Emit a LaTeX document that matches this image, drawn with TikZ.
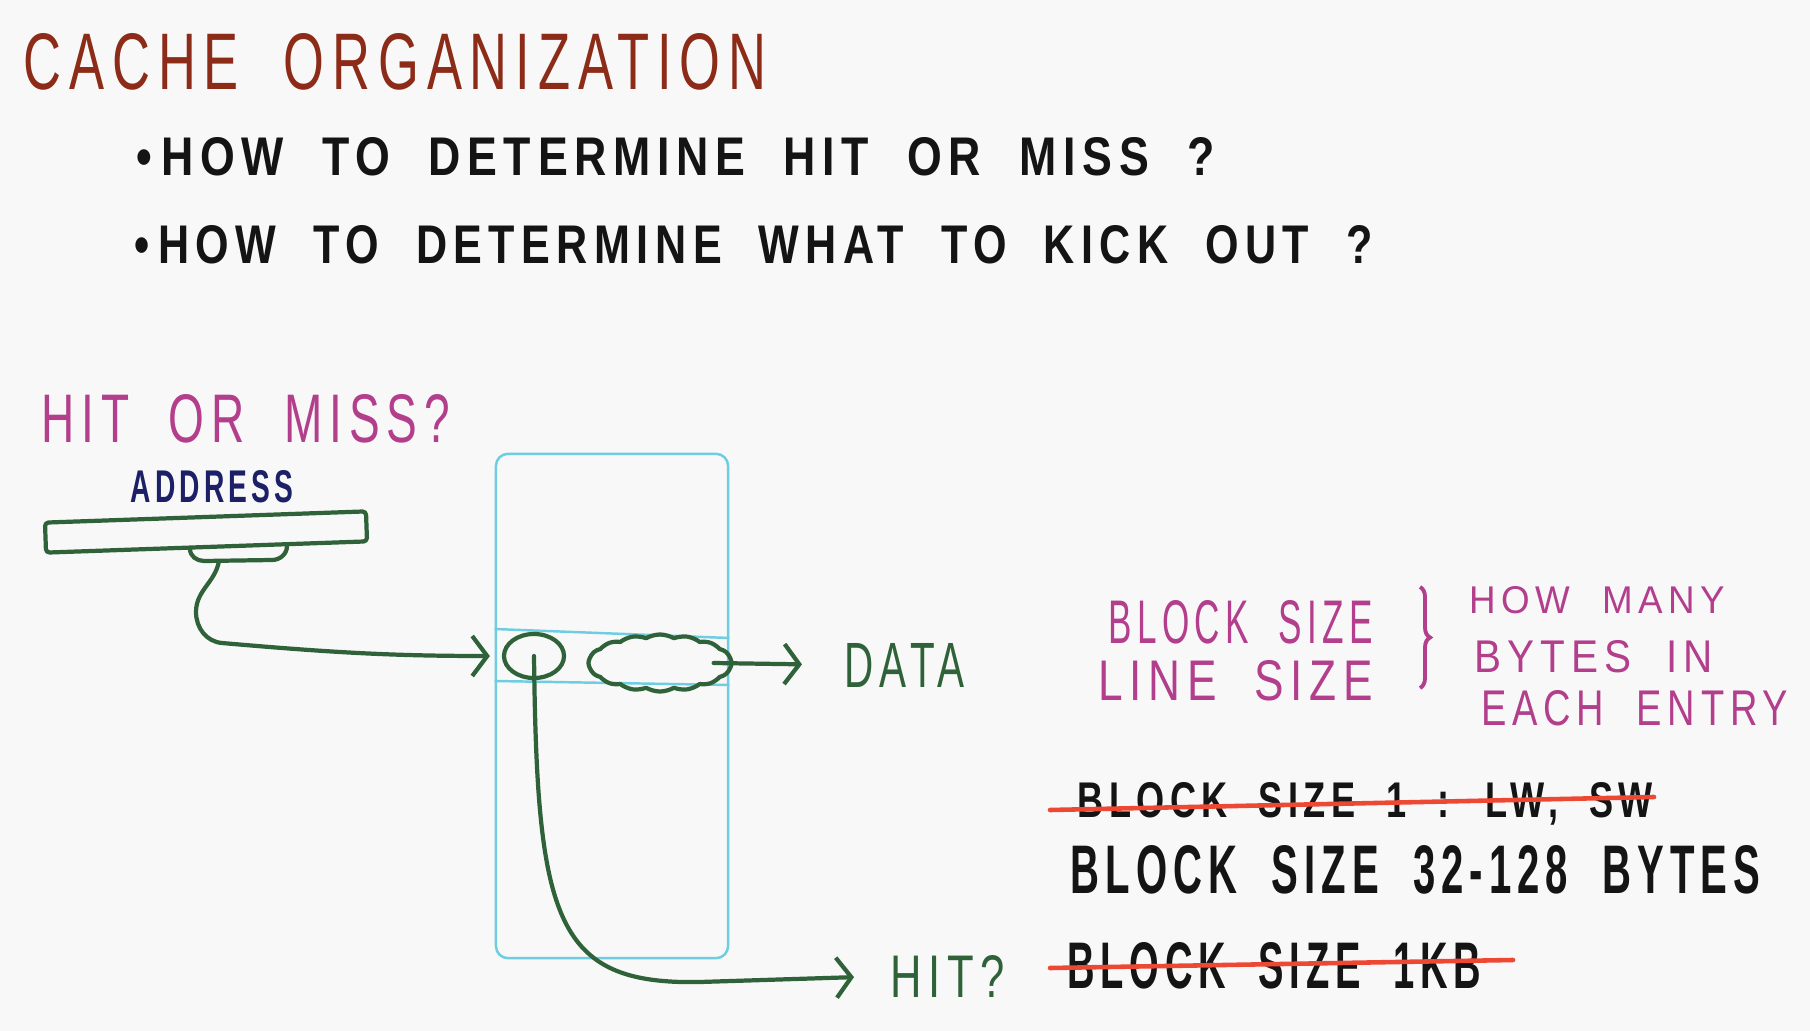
\documentclass[tikz,border=0pt]{standalone}
\usepackage{graphicx}
\usepackage{fontspec}
\setmainfont{Liberation Sans}[LetterSpace=15,WordSpace=2]
\usetikzlibrary{arrows.meta,shapes.geometric,shapes.symbols,decorations.pathreplacing}

\definecolor{paper}{RGB}{248,248,248}
\definecolor{titlered}{RGB}{139,43,24}
\definecolor{inkblack}{RGB}{20,20,20}
\definecolor{inkmagenta}{RGB}{178,62,140}
\definecolor{inknavy}{RGB}{28,32,102}
\definecolor{inkgreen}{RGB}{48,98,58}
\definecolor{cachecyan}{RGB}{110,205,225}
\definecolor{strikered}{RGB}{236,72,52}

% text squeezed to the hand-written width and cap height
\newcommand{\hand}[3]{\resizebox{#1cm}{#2cm}{#3}}

\begin{document}
\begin{tikzpicture}[x=0.01cm, y=-0.01cm,
    txt/.style={anchor=base west, inner sep=0pt},
    marker/.style={txt, text=inkblack, font=\bfseries},
    pen/.style={draw=inkgreen, line width=1.2pt, line cap=round, line join=round},
    arr/.style={pen, -{Straight Barb[length=1.5mm,width=4mm]}},
    cyanline/.style={draw=cachecyan, line width=0.7pt},
    strike/.style={draw=strikered, line width=1.3pt, line cap=round}]
    \fill[paper] (0,0) rectangle (1810,1031);
    \useasboundingbox (0,0) rectangle (1810,1031);

    % heading
    \node[txt, text=titlered] (title) at (23,90) {\hand{7.42}{0.56}{CACHE ORGANIZATION}};
    \node[marker] (qhit) at (136,176) {\hand{10.77}{0.38}{\textbullet\kern0.2em HOW TO DETERMINE HIT OR MISS ?}};
    \node[marker] (qkick) at (134,264) {\hand{12.37}{0.38}{\textbullet\kern0.2em HOW TO DETERMINE WHAT TO KICK OUT ?}};

    % left: address into the cache
    \node[txt, text=inkmagenta] (sub) at (41,443) {\hand{4.08}{0.48}{HIT OR MISS?}};
    \node[txt, text=inknavy, font=\bfseries] (addrlbl) at (130,502) {\hand{1.63}{0.32}{ADDRESS}};
    \node[pen, rectangle, rounded corners=1pt, rotate=2, minimum width=3.21cm, minimum height=0.3cm] (addr) at (206,532) {};
    \draw[pen] (190,549) to[out=-90,in=180] (204,561) -- (272,560) to[out=0,in=-90] (287,546);
    \coordinate (fld) at (219,561);

    \node[cyanline, rectangle, rounded corners=0.12cm, minimum width=2.32cm, minimum height=5.04cm] (cache) at (612,706) {};
    \draw[cyanline] (cache.west |- 0,629) -- (cache.east |- 0,638);
    \draw[cyanline] (cache.west |- 0,681) -- (cache.east |- 0,685);

    \node[pen, ellipse, inner sep=0pt, minimum width=0.6cm, minimum height=0.44cm] (tag) at (534,656) {};
    \node[pen, cloud, cloud puffs=16, cloud puff arc=60, aspect=2.5, inner sep=0pt,
          minimum width=1.43cm, minimum height=0.57cm] (blk) at (660,663) {};

    \node[txt, text=inkgreen] (data) at (844,687) {\hand{1.20}{0.44}{DATA}};
    \node[txt, text=inkgreen] (hit) at (890,997) {\hand{1.14}{0.42}{HIT?}};

    \draw[arr, shorten >=0.12cm] (fld) to[out=-100,in=90] (196,612) to[out=-90,in=175] (222,643) to[out=-5,in=180] (tag.west);
    \draw[arr, shorten >=0.42cm] ([xshift=-0.2cm]blk.east) -- (data.west);
    \draw[arr, shorten >=0.36cm] (tag.center) .. controls (537,920) and (555,985) .. (700,982) -- (hit.west);

    % right: block size notes
    \node[txt, text=inkmagenta] (bsz) at (1108,643) {\hand{2.64}{0.43}{BLOCK SIZE}};
    \node[txt, text=inkmagenta] (lsz) at (1098,700) {\hand{2.74}{0.40}{LINE SIZE}};
    \draw[draw=inkmagenta, line width=1.1pt, decorate, decoration={brace, amplitude=0.1cm}] (1420,587) -- (1420,688);
    \node[txt, text=inkmagenta] (how) at (1469,613) {\hand{2.55}{0.27}{HOW MANY}};
    \node[txt, text=inkmagenta] (byt) at (1474,672) {\hand{2.38}{0.32}{BYTES IN}};
    \node[txt, text=inkmagenta] (ent) at (1481,725) {\hand{3.06}{0.35}{EACH ENTRY}};

    \node[marker] (one) at (1077,817) {\hand{5.75}{0.35}{BLOCK SIZE 1 : LW, SW}};
    \node[marker] (mid) at (1070,893) {\hand{6.89}{0.48}{BLOCK SIZE 32-128 BYTES}};
    \node[marker] (kb) at (1067,988) {\hand{4.13}{0.46}{BLOCK SIZE 1KB}};
    \draw[strike] (1050,810) -- (1654,797);
    \draw[strike] (1050,968) -- (1513,960);
\end{tikzpicture}
\end{document}
